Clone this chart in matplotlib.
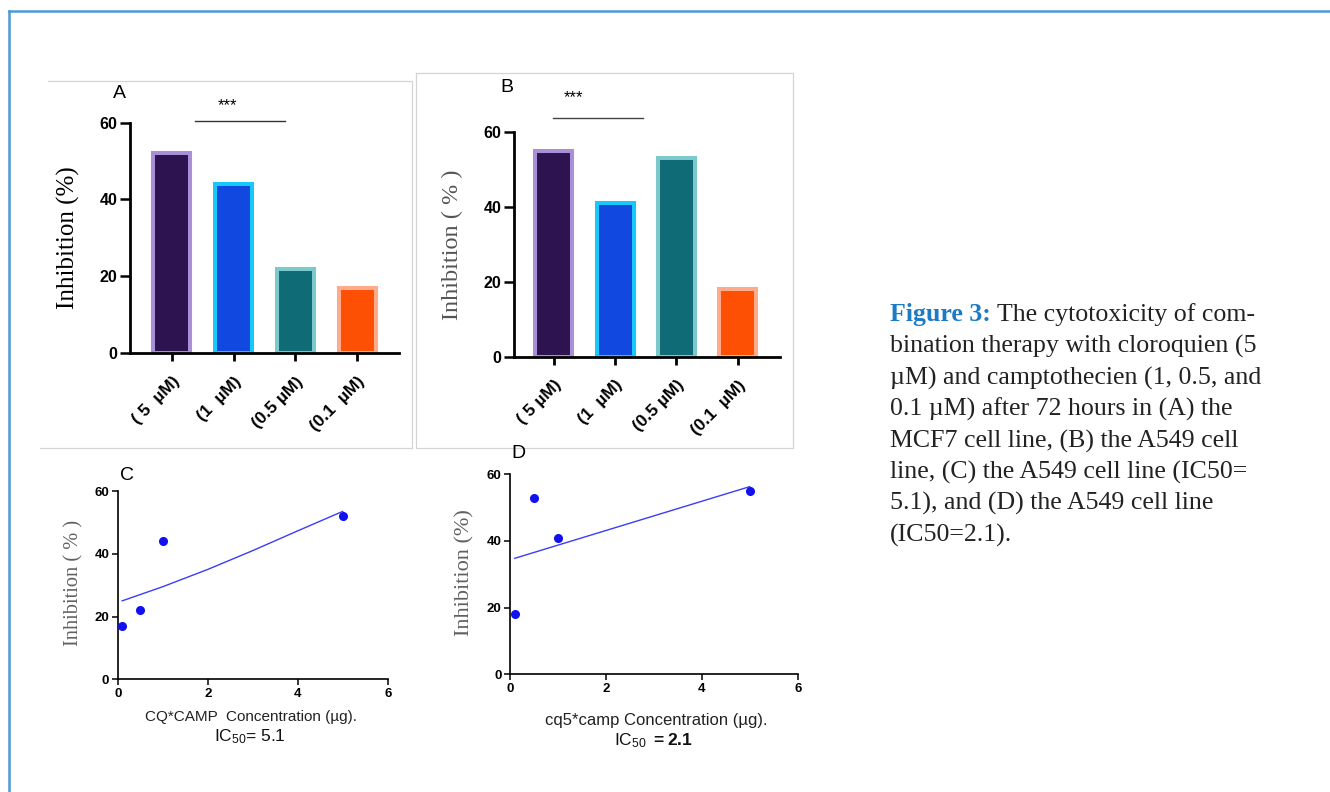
import matplotlib
matplotlib.use("Agg")
import matplotlib.pyplot as plt
from matplotlib.lines import Line2D

plt.rcParams['font.family'] = ['Liberation Sans', 'DejaVu Sans']
plt.rcParams['mathtext.fontset'] = 'custom'
plt.rcParams['mathtext.rm'] = 'Liberation Sans'
plt.rcParams['mathtext.bf'] = 'Liberation Sans:bold'
plt.rcParams['mathtext.default'] = 'regular'

# ---------------- data ----------------
labels_a = ["( 5  µM)", "(1  µM)", "(0.5 µM)", "(0.1  µM)"]
labels_b = ["( 5 µM)", "(1  µM)", "(0.5 µM)", "(0.1  µM)"]
inhib_a = [52, 44, 22, 17]          # MCF7
inhib_b = [55, 41, 53, 18]          # A549
fill_colors = ["#2d1450", "#1148e0", "#0f6b75", "#fe5004"]
edge_colors = ["#a98fd8", "#18c8f8", "#7cc9cc", "#fdab8a"]

conc = [0.1, 0.5, 1, 5]
inhib_c = [17, 22, 44, 52]
inhib_d = [18, 53, 41, 55]
fit_c_x = [0.1, 1, 2, 3, 4, 5]
fit_c_y = [25, 29.5, 35, 41, 47.3, 53.5]
fit_d_x = [0.1, 5]
fit_d_y = [34.8, 56.3]
yticks = [0, 20, 40, 60]
xticks_cd = [0, 2, 4, 6]

W, H = 1330, 792
fig = plt.figure(figsize=(W / 100, H / 100), dpi=100)


def ax_px(l, t, r, b):
    return fig.add_axes([l / W, 1 - b / H, (r - l) / W, (b - t) / H])


def ftxt(x, y, s, **kw):
    return fig.text(x / W, 1 - y / H, s, **kw)


def fline(xs, ys, **kw):
    fig.add_artist(Line2D([x / W for x in xs], [1 - y / H for y in ys],
                          transform=fig.transFigure, **kw))


# outer blue frame
fline([9, 1330], [11, 11], color="#4b9bd2", lw=1.8)
fline([9, 9], [11, 792], color="#4b9bd2", lw=1.8)

# gray frames of panels A and B
g = "#d4d4d4"
fline([48, 412], [81, 81], color=g, lw=0.9)
fline([412, 412], [81, 448], color=g, lw=0.9)
fline([40, 412], [448, 448], color=g, lw=0.9)
fline([416, 793, 793, 416, 416], [73, 73, 448, 448, 73], color=g, lw=0.9)


def bar_panel(ax, vals, labels, xl):
    x = list(range(len(vals)))
    ax.bar(x, vals, width=0.6, color=fill_colors, edgecolor=edge_colors,
           linewidth=2.9, zorder=2)
    ax.set_xlim(*xl)
    ax.set_ylim(0, 60)
    ax.set_yticks(yticks)
    ax.set_xticks(x)
    ax.set_xticklabels(labels, rotation=45, ha="right", va="top",
                       rotation_mode="anchor", fontsize=12.5, fontweight="bold")
    for s in ["top", "right"]:
        ax.spines[s].set_visible(False)
    for s in ["left", "bottom"]:
        ax.spines[s].set_linewidth(2.0)
        ax.spines[s].set_zorder(3)
    ax.tick_params(axis="y", length=7, width=1.8, labelsize=11.5, pad=2)
    ax.tick_params(axis="x", length=6, width=2.0, pad=9)
    for t in ax.get_yticklabels():
        t.set_fontweight("bold")
    ax.patch.set_alpha(0)


# Panel A
axA = ax_px(130, 122.7, 399, 353)
bar_panel(axA, inhib_a, labels_a, (-0.68, 3.68))
ftxt(68, 238, "Inhibition (%)", rotation=90, ha="center", va="center",
     family="Liberation Serif", fontsize=18, color="black")
ftxt(119, 93, "A", ha="center", va="center", fontsize=14)
fline([195, 285], [120.7, 120.7], color="#333333", lw=1.0)
ftxt(227, 106, "***", ha="center", va="center", fontsize=12)

# Panel B
axB = ax_px(514, 132.3, 780, 356.7)
bar_panel(axB, inhib_b, labels_b, (-0.65, 3.69))
ftxt(452, 245, "Inhibition ( % )", rotation=90, ha="center", va="center",
     family="Liberation Serif", fontsize=17.5, color="#555555")
ftxt(507, 88, "B", ha="center", va="center", fontsize=14)
fline([553, 643], [117.7, 117.7], color="#444444", lw=1.0)
ftxt(573, 98, "***", ha="center", va="center", fontsize=12)


def scatter_panel(ax, yv, fx, fy):
    ax.plot(fx, fy, color="#3c3cf5", lw=1.0, zorder=2)
    ax.plot(conc, yv, "o", color="#1010f0", markersize=5.5, zorder=3,
            linestyle="none")
    ax.set_xlim(0, 6)
    ax.set_ylim(0, 60)
    ax.set_xticks(xticks_cd)
    ax.set_yticks(yticks)
    for s in ["top", "right"]:
        ax.spines[s].set_visible(False)
    for s in ["left", "bottom"]:
        ax.spines[s].set_linewidth(1.2)
    ax.tick_params(length=4, width=1.1, labelsize=9.5, pad=2)
    for t in ax.get_yticklabels() + ax.get_xticklabels():
        t.set_fontweight("bold")
    ax.patch.set_alpha(0)


# Panel C
axC = ax_px(117.7, 491, 387.7, 679.3)
scatter_panel(axC, inhib_c, fit_c_x, fit_c_y)
ftxt(74, 583, "Inhibition ( % )", rotation=90, ha="center", va="center",
     family="Liberation Serif", fontsize=14.7, color="#606060")
ftxt(127, 476, "C", ha="center", va="center", fontsize=14)
ftxt(251, 717, "CQ*CAMP  Concentration (µg).", ha="center", va="center",
     fontsize=11, color="#222222")
ftxt(250, 737, "IC$_{50}$= 5.1", ha="center", va="center", fontsize=12.5,
     color="#111111")

# Panel D
axD = ax_px(510, 474.3, 797.7, 674.3)
scatter_panel(axD, inhib_d, fit_d_x, fit_d_y)
ftxt(465, 573, "Inhibition (%)", rotation=90, ha="center", va="center",
     family="Liberation Serif", fontsize=16, color="#606060")
ftxt(518, 453, "D", ha="center", va="center", fontsize=14)
ftxt(656, 721, "cq5*camp Concentration (µg).", ha="center", va="center",
     fontsize=12, color="#222222")
ftxt(653, 741, "IC$_{50}$ $\\mathbf{=2.1}$", ha="center", va="center",
     fontsize=12.5, color="#111111")

# Caption
cap_lines = [
    " The cytotoxicity of com-",
    "bination therapy with cloroquien (5",
    "µM) and camptothecien (1, 0.5, and",
    "0.1 µM) after 72 hours in (A) the",
    "MCF7 cell line, (B) the A549 cell",
    "line, (C) the A549 cell line (IC50=",
    "5.1), and (D) the A549 cell line",
    "(IC50=2.1).",
]
cap_x, cap_y0, cap_dy = 890, 321.5, 31.4
cap_fs = 18.6
t0 = ftxt(cap_x, cap_y0, "Figure 3:", ha="left", va="baseline",
          family="Liberation Serif", fontsize=cap_fs, fontweight="bold",
          color="#1b7bc4")
fig.canvas.draw()
bb = t0.get_window_extent(renderer=fig.canvas.get_renderer())
x1 = bb.x1
fig.text(x1 / W, 1 - cap_y0 / H, cap_lines[0], ha="left", va="baseline",
         family="Liberation Serif", fontsize=cap_fs, color="#222222")
for i, line in enumerate(cap_lines[1:], start=1):
    ftxt(cap_x, cap_y0 + i * cap_dy, line, ha="left", va="baseline",
         family="Liberation Serif", fontsize=cap_fs, color="#222222")

fig.savefig("out.png", dpi=100)
